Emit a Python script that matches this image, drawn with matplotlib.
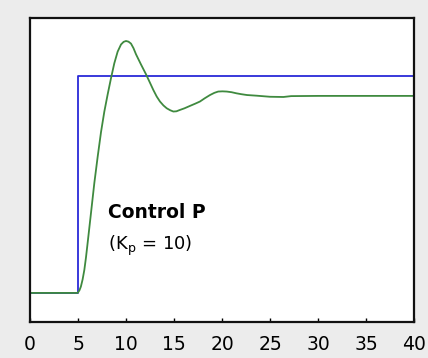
import matplotlib
matplotlib.use("Agg")
import matplotlib.pyplot as plt

# Setpoint (step at t=5)
sp_t = [0, 5, 40]
sp_y = [0, 1, 1]

# Process response, proportional control Kp = 10
resp_t = [0, 4.97, 5.15, 5.3, 5.48, 5.66, 5.83, 6.0, 6.35, 6.7, 7.05, 7.4,
          7.74, 8.09, 8.44, 8.78, 9.13, 9.48, 9.75, 10.0, 10.26, 10.52,
          10.78, 11.04, 11.56, 12.08, 12.43, 12.85, 13.2, 13.54, 13.9,
          14.24, 14.6, 14.93, 15.25, 15.6, 16.1, 16.67, 17.2, 17.7, 18.2,
          18.75, 19.2, 19.6, 20.05, 20.5, 21.0, 21.5, 22.0, 22.6, 23.6,
          25.0, 26.4, 27.2, 30.0, 40.0]
resp_y = [0, 0.0, 0.012, 0.029, 0.062, 0.106, 0.163, 0.229, 0.367, 0.506,
          0.628, 0.742, 0.835, 0.915, 0.99, 1.058, 1.112, 1.145, 1.157,
          1.161, 1.158, 1.149, 1.128, 1.100, 1.053, 1.008, 0.975, 0.935,
          0.905, 0.882, 0.864, 0.851, 0.842, 0.836, 0.837, 0.843, 0.851,
          0.862, 0.872, 0.882, 0.897, 0.912, 0.922, 0.928, 0.929, 0.928,
          0.925, 0.920, 0.916, 0.912, 0.909, 0.904, 0.903, 0.907, 0.908,
          0.908]

xticks = [0, 5, 10, 15, 20, 25, 30, 35, 40]

plt.rcParams['font.family'] = ['DejaVu Sans']

fig = plt.figure(figsize=(4.28, 3.58), dpi=100, facecolor='#ececec')
ax = fig.add_axes([30/428, 36/358, 384/428, 304/358])
ax.set_facecolor('white')

ax.plot(sp_t, sp_y, drawstyle='steps-post', color='#2a2ad8', lw=1.3)
ax.plot(resp_t, resp_y, color='#3f8a3f', lw=1.3)

ax.set_xlim(0, 40)
ax.set_ylim(-0.134, 1.267)
ax.set_xticks(xticks)
ax.set_yticks([])
ax.tick_params(axis='x', direction='in', length=3, width=1, pad=9,
               labelsize=13.5, colors='black')
for s in ax.spines.values():
    s.set_linewidth(1.6)
    s.set_color('#111111')

ax.text(8.1, 0.346, 'Control P', fontsize=13.5, fontweight='bold',
        ha='left', va='baseline')
ax.text(8.1, 0.2, r'(K$_\mathregular{p}$ = 10)', fontsize=13,
        ha='left', va='baseline')

fig.savefig('out.png', dpi=100, facecolor=fig.get_facecolor())
